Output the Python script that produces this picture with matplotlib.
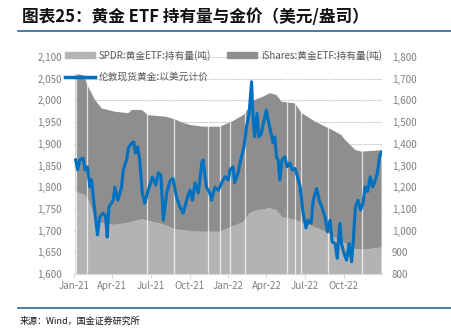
import matplotlib
matplotlib.use("Agg")
import matplotlib.pyplot as plt
import matplotlib.dates as mdates
from matplotlib.lines import Line2D
from matplotlib.patches import Patch
from matplotlib.ticker import StrMethodFormatter, MultipleLocator
import pandas as pd

plt.rcParams['font.family'] = ['Noto Sans CJK SC', 'DejaVu Sans']

# ETF holdings (tonnes), right axis
hold_dates = ["2021-01-04", "2021-01-24", "2021-02-02", "2021-02-19", "2021-03-07", "2021-04-07",
              "2021-05-09", "2021-05-17", "2021-06-10", "2021-06-25", "2021-07-19", "2021-08-05",
              "2021-08-29", "2021-09-08", "2021-10-02", "2021-11-02", "2021-12-12", "2022-01-09",
              "2022-02-06", "2022-02-21", "2022-03-04", "2022-03-24", "2022-04-09", "2022-04-25",
              "2022-05-07", "2022-06-08", "2022-06-24", "2022-07-26", "2022-08-18", "2022-09-04",
              "2022-09-26", "2022-10-05", "2022-10-29", "2022-11-13", "2022-12-13", "2022-12-30"]
spdr = [1179, 1165, 1145, 1064, 1034, 1026, 1036, 1041, 1052, 1045, 1034, 1025,
        1005, 1003, 998, 995, 995, 1018, 1040, 1081, 1090, 1098, 1103, 1095,
        1064, 1049, 1038, 1015, 995, 975, 949, 940, 915, 911, 918, 922]
ishares = [543, 550, 522, 538, 529, 522, 505, 515, 504, 487, 494, 500,
           507, 499, 489, 484, 484, 484, 493, 490, 512, 519, 530, 530,
           530, 537, 503, 487, 485, 489, 491, 477, 456, 453, 450, 449]

# days with missing holdings data (show as thin gaps)
gap_dates = ["2021-01-05", "2021-02-01", "2021-06-23", "2021-08-25", "2021-11-13", "2021-12-13",
             "2022-01-05", "2022-02-10", "2022-05-19", "2022-06-08", "2022-06-22", "2022-08-24",
             "2022-11-13"]

# London spot gold, USD/oz, left axis
gold_dates = ["2021-01-04", "2021-01-09", "2021-01-14", "2021-01-22", "2021-01-26", "2021-02-01",
              "2021-02-07", "2021-02-11", "2021-02-19", "2021-02-25", "2021-03-02", "2021-03-10",
              "2021-03-16", "2021-03-20", "2021-03-24", "2021-04-03", "2021-04-07", "2021-04-14",
              "2021-04-23", "2021-04-27", "2021-05-05", "2021-05-09", "2021-05-17", "2021-05-22",
              "2021-05-26", "2021-05-31", "2021-06-05", "2021-06-11", "2021-06-17", "2021-06-25",
              "2021-07-05", "2021-07-13", "2021-07-19", "2021-07-25", "2021-07-31", "2021-08-08",
              "2021-08-16", "2021-08-23", "2021-08-31", "2021-09-08", "2021-09-16", "2021-09-24",
              "2021-10-02", "2021-10-08", "2021-10-14", "2021-10-22", "2021-10-30", "2021-11-02",
              "2021-11-10", "2021-11-18", "2021-11-22", "2021-11-30", "2021-12-08", "2021-12-16",
              "2021-12-24", "2022-01-01", "2022-01-05", "2022-01-12", "2022-01-16", "2022-01-24",
              "2022-02-01", "2022-02-07", "2022-02-13", "2022-02-19", "2022-02-25", "2022-02-28",
              "2022-03-04", "2022-03-10", "2022-03-14", "2022-03-20", "2022-03-25", "2022-04-01",
              "2022-04-05", "2022-04-09", "2022-04-17", "2022-04-21", "2022-04-25", "2022-04-29",
              "2022-05-03", "2022-05-08", "2022-05-15", "2022-05-20", "2022-05-27", "2022-06-01",
              "2022-06-08", "2022-06-12", "2022-06-20", "2022-06-27", "2022-07-04", "2022-07-09",
              "2022-07-16", "2022-07-21", "2022-07-29", "2022-08-04", "2022-08-10", "2022-08-18",
              "2022-08-24", "2022-08-30", "2022-09-04", "2022-09-11", "2022-09-16", "2022-09-22",
              "2022-09-26", "2022-10-02", "2022-10-08", "2022-10-14", "2022-10-20", "2022-10-24",
              "2022-10-29", "2022-11-04", "2022-11-10", "2022-11-16", "2022-11-21", "2022-11-27",
              "2022-12-03", "2022-12-09", "2022-12-13", "2022-12-20", "2022-12-25", "2022-12-30"]
gold = [1863, 1840, 1863, 1867, 1840, 1847, 1800, 1817, 1740, 1690, 1731, 1740,
        1735, 1685, 1754, 1770, 1800, 1770, 1800, 1840, 1863, 1890, 1902, 1904,
        1879, 1893, 1863, 1787, 1763, 1793, 1823, 1805, 1833, 1828, 1724, 1787,
        1815, 1820, 1778, 1755, 1740, 1770, 1793, 1770, 1810, 1787, 1856, 1863,
        1800, 1787, 1770, 1800, 1793, 1810, 1824, 1817, 1840, 1847, 1810, 1833,
        1870, 1893, 1939, 1970, 2043, 1970, 1916, 1970, 1916, 1923, 1947, 1978,
        1955, 1939, 1902, 1916, 1870, 1863, 1817, 1863, 1870, 1847, 1856, 1840,
        1843, 1830, 1801, 1740, 1706, 1724, 1717, 1770, 1797, 1770, 1755, 1732,
        1697, 1724, 1674, 1670, 1636, 1717, 1670, 1648, 1632, 1670, 1628, 1678,
        1755, 1770, 1747, 1763, 1801, 1790, 1824, 1801, 1810, 1833, 1870, 1881]

title = "图表25：黄金 ETF 持有量与金价（美元/盎司）"
source = "来源：Wind，国金证券研究所"
labels = ["SPDR:黄金ETF:持有量(吨)", "iShares:黄金ETF:持有量(吨)", "伦敦现货黄金:以美元计价"]

c_spdr, c_ish, c_gold = "#b3b3b3", "#8e8e8e", "#0070c0"
tick_color = "#7f7f7f"

hd = pd.to_datetime(hold_dates)
gd = pd.to_datetime(gold_dates)

W, H = 451, 329
fig = plt.figure(figsize=(W / 100, H / 100), dpi=100)
ax = fig.add_axes([74.3 / W, 1 - 274 / H, (382 - 74.3) / W, (274 - 57) / H])

ax.stackplot(hd, spdr, ishares, colors=[c_spdr, c_ish], linewidth=0)
for g in pd.to_datetime(gap_dates):
    ax.axvline(g, color="white", lw=0.9, alpha=0.75)
ax.set_ylim(800, 1800)
ax.set_xlim(pd.Timestamp("2021-01-01"), pd.Timestamp("2022-12-31"))
ax.xaxis.set_major_locator(mdates.MonthLocator(bymonth=[1, 4, 7, 10]))
ax.xaxis.set_major_formatter(mdates.DateFormatter("%b-%y"))
ax.grid(axis="y", color="#d9d9d9", lw=0.8)
ax.set_axisbelow(True)

ax2 = ax.twinx()
ax2.plot(gd, gold, color=c_gold, lw=2.2)
ax2.set_ylim(1600, 2100)
ax2.yaxis.set_major_locator(MultipleLocator(50))
ax2.yaxis.tick_left()
ax2.yaxis.set_major_formatter(StrMethodFormatter("{x:,.0f}"))

# holdings ticks on the right (set after twinx, which resets them)
ax.yaxis.tick_right()
ax.yaxis.set_major_locator(MultipleLocator(100))
ax.yaxis.set_major_formatter(StrMethodFormatter("{x:,.0f}"))

for a in (ax, ax2):
    for s in a.spines.values():
        s.set_visible(False)
ax.spines["bottom"].set_visible(True)
ax.spines["bottom"].set_color("#d9d9d9")

ax.tick_params(axis="x", labelsize=7, colors=tick_color, length=3, pad=2)
ax.tick_params(axis="x", color="#d9d9d9")
ax.tick_params(axis="y", labelsize=7, colors=tick_color, length=0, pad=7)
ax2.tick_params(axis="y", labelsize=7, colors=tick_color, length=0, pad=9)

handles = [Patch(color=c_spdr), Line2D([], [], color=c_gold, lw=2.5), Patch(color=c_ish)]
leg = fig.legend(handles, [labels[0], labels[2], labels[1]], ncol=2, frameon=False,
                 loc="upper left", bbox_to_anchor=(65 / W, 1 - 50 / H), fontsize=7,
                 handlelength=3.1, handleheight=0.6, handletextpad=0.4,
                 columnspacing=1.6, labelspacing=1.15, borderpad=0, borderaxespad=0)
for t in leg.get_texts():
    t.set_color("#595959")

fig.text(22 / W, 1 - 17 / H, title, fontsize=12, weight="bold", va="center", color="#111111")
fig.add_artist(Line2D([18 / W, 1], [1 - 31 / H] * 2, color="#2a6592", lw=1.2))
fig.add_artist(Line2D([18 / W, 1], [1 - 308 / H] * 2, color="#2a6592", lw=1.2))
fig.text(20 / W, 1 - 321 / H, source, fontsize=6.5, va="center", color="#111111")

fig.savefig("out.png", dpi=100)
